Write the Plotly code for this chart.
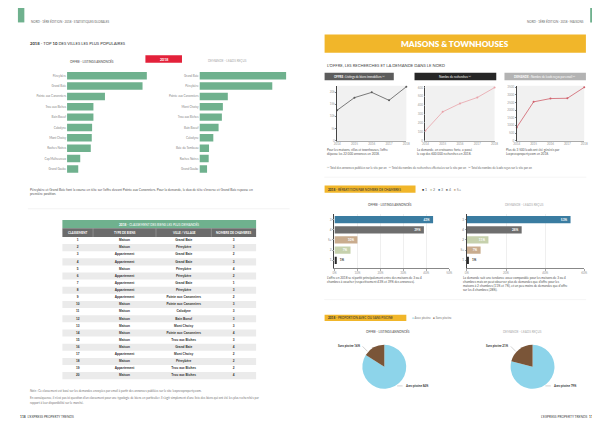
import plotly.graph_objects as go

W, H = 600, 424
def X(p): return p / W
def Y(p): return 1 - p / H

# ---------------- DATA ----------------
top_offre_villes = ["Péreybère", "Grand Baie", "Pointe aux Canonniers", "Trou aux Biches", "Bain Boeuf",
                    "Calodyne", "Mont Choisy", "Roches Noires", "Cap Malheureux", "Grand Gaube"]
top_offre_vals = [242, 229, 115, 80, 80, 76, 75, 72, 40, 34]
top_dem_villes = ["Grand Baie", "Péreybère", "Pointe aux Canonniers", "Mont Choisy", "Trou aux Biches",
                  "Bain Boeuf", "Calodyne", "Baie du Tombeau", "Roches Noires", "Grand Gaube"]
top_dem_vals = [263, 221, 86, 71, 68, 58, 42, 29, 28, 23]

classement = list(range(1, 21))
types_biens = ["Maison", "Maison", "Appartement", "Appartement", "Maison", "Appartement", "Appartement",
               "Appartement", "Appartement", "Maison", "Maison", "Maison", "Maison", "Maison", "Maison",
               "Maison", "Appartement", "Maison", "Appartement", "Maison"]
villes_table = ["Grand Baie", "Péreybère", "Grand Baie", "Grand Baie", "Péreybère", "Péreybère", "Grand Baie",
                "Péreybère", "Pointe aux Canonniers", "Pointe aux Canonniers", "Calodyne", "Bain Boeuf",
                "Mont Choisy", "Pointe aux Canonniers", "Trou aux Biches", "Grand Baie", "Mont Choisy",
                "Péreybère", "Trou aux Biches", "Trou aux Biches"]
nb_chambres = [3, 3, 2, 3, 4, 2, 1, 3, 2, 3, 3, 3, 3, 4, 3, 4, 2, 2, 2, 4]
table_headers = ["CLASSEMENT", "TYPE DE BIENS", "VILLE / VILLAGE", "NOMBRE DE CHAMBRES"]

annees = [2014, 2015, 2016, 2017, 2018]
offre_annonces = [12540, 17750, 19920, 16640, 22250]
nb_recherches = [113, 326, 420, 488, 600]
nb_leads = [866, 2539, 2754, 2773, 3489]

ch_offre_labels = ["3", "4", "5+", "2", "1"]
ch_offre_pct = [43, 39, 10, 7, 1]
ch_dem_labels = ["3", "4", "2", "5+", "1"]
ch_dem_pct = [53, 28, 11, 7, 1]
ch_legend = ["1", "2", "3", "4", "5+"]

piscine_labels = ["Avec piscine", "Sans piscine"]
piscine_offre = [84, 16]
piscine_dem = [79, 21]

# ---------------- STYLE ----------------
GREEN = "#6fb18e"
YELLOW = "#f1b62a"
RED = "#e3213a"
FONT = "Lato, Open Sans, Arial, sans-serif"
CH_COL = {"1": "#2b2b2b", "2": "#c6d1ad", "3": "#3a7ca1", "4": "#6e6e6e", "5+": "#c9ac8e"}
PIE_COL = ["#8dd4ea", "#7a5538"]

fig = go.Figure()
shapes = []
anns = []

def rect(x0, y0, x1, y1, color, layer="below"):
    shapes.append(dict(type="rect", xref="paper", yref="paper", x0=X(x0), x1=X(x1), y0=Y(y1), y1=Y(y0),
                       fillcolor=color, line=dict(width=0), layer=layer))

def hline(x0, x1, y, color="#e6e6e6", w=0.6):
    shapes.append(dict(type="line", xref="paper", yref="paper", x0=X(x0), x1=X(x1), y0=Y(y), y1=Y(y),
                       line=dict(color=color, width=w)))

def seg(x0, y0, x1, y1, color="#555", w=0.4, layer="above"):
    shapes.append(dict(type="line", xref="paper", yref="paper", x0=X(x0), x1=X(x1), y0=Y(y0), y1=Y(y1),
                       line=dict(color=color, width=w), layer=layer))

def ann(x, y, text, size=3.5, color="#555", xa="left", ya="middle", align="left", weight=None):
    f = dict(size=size, color=color, family=FONT)
    if weight:
        f["weight"] = weight
    anns.append(dict(x=X(x), y=Y(y), xref="paper", yref="paper", text=text, showarrow=False,
                     xanchor=xa, yanchor=ya, align=align, font=f))

# ---------------- LEFT PAGE ----------------
rect(7, 0, 13.5, 14.5, GREEN)
ann(18, 14, "NORD · 1ÈRE ÉDITION · 2018 · STATISTIQUES GLOBALES", 3, "#666")
ann(17, 35.7, "<b>2018</b> - TOP <b>10</b> DES VILLES LES PLUS POPULAIRES", 4.2, "#333")
ann(82, 53.3, "OFFRE - LISTINGS ANNONCÉS", 3.1, "#444", xa="center")
rect(136, 47.5, 173, 55, RED)
ann(154.5, 51.3, "<b>2018</b>", 3.6, "white", xa="center")
ann(219, 53.3, "DEMANDE - LEADS REÇUS", 3.1, "#aaa", xa="center")

fig.add_trace(go.Bar(x=top_offre_vals, y=top_offre_villes, orientation="h", marker=dict(color=GREEN, line=dict(width=0)),
                     xaxis="x", yaxis="y", showlegend=False, hoverinfo="skip", width=0.72))
fig.add_trace(go.Bar(x=top_dem_vals, y=top_dem_villes, orientation="h", marker=dict(color=GREEN, line=dict(width=0)),
                     xaxis="x2", yaxis="y2", showlegend=False, hoverinfo="skip", width=0.72))

ann(17, 184.8, "Péreybère et Grand Baie font la course en tête sur l'offre devant Pointe aux Canonniers. Pour la demande, le duo de tête s'inverse et Grand Baie repasse en<br>première position.", 3.3, "#555")
hline(17, 282, 201.7, "#ececec")

# table (title row, header row, striped rows, text from data)
T_X0, T_X1 = 52, 248
T_HEAD0, T_ROW0, T_ROWH = 221.2, 230, 7.15
col_edges = [0, 31, 94.7, 150.7, 196]
col_centers = [(col_edges[i] + col_edges[i + 1]) / 2 for i in range(4)]
rect(T_X0, 213, T_X1, T_HEAD0, GREEN)
ann(150, 217.1, "<b>2018</b> - CLASSEMENT DES BIENS LES PLUS DEMANDÉS", 3.2, "white", xa="center")
rect(T_X0, T_HEAD0, T_X1, T_ROW0, "#6b6b6b")
for i, h in enumerate(table_headers):
    ann(T_X0 + col_centers[i], (T_HEAD0 + T_ROW0) / 2, "<b>%s</b>" % h, 3.0, "white", xa="center")
for e in col_edges[1:-1]:
    seg(T_X0 + e, T_HEAD0, T_X0 + e, T_ROW0, "#a5a5a5", 0.6)
n_rows = len(classement)
for i in range(n_rows):
    if i % 2 == 1:
        rect(T_X0, T_ROW0 + i * T_ROWH, T_X1, T_ROW0 + (i + 1) * T_ROWH, "#ebebeb")
for ci, col in enumerate([classement, types_biens, villes_table, nb_chambres]):
    fig.add_trace(go.Scatter(x=[col_centers[ci]] * n_rows, y=classement, text=[str(v) for v in col], mode="text",
                             textposition="middle center",
                             textfont=dict(size=3.2, color="#333", family="Liberation Sans, Arial", weight="bold"),
                             xaxis="x8", yaxis="y8", showlegend=False, hoverinfo="skip", cliponaxis=False))

ann(17, 384.6, "<i>Note :</i> Ce classement est basé sur les demandes envoyées par email à partir des annonces publiées sur le site lexpressproperty.com.", 3.0, "#777")
ann(17, 391.6, "En conséquence, il n'est pas ici question d'un classement pour une typologie de biens en particulier. Il s'agit simplement d'une liste des biens qui ont été les plus recherchés par", 3.0, "#777")
ann(17, 396.4, "rapport à leur disponibilité sur le marché.", 3.0, "#777")
ann(7, 410.7, "<b>118</b>  L'EXPRESS PROPERTY TRENDS", 3.3, "#444")

# ---------------- RIGHT PAGE ----------------
rect(586, 0, 592.5, 14.5, GREEN)
ann(581.7, 14, "NORD · 1ÈRE ÉDITION · 2018 · MAISONS", 3, "#666", xa="right")
rect(317.3, 26.7, 581.7, 45, YELLOW)
ann(449.5, 36, "MAISONS & TOWNHOUSES", 8.2, "white", xa="center", weight=800)
ann(317.5, 58, "L'OFFRE, LES RECHERCHES ET LA DEMANDE DANS LE NORD", 4.2, "#444")

rect(317.3, 65, 387.3, 72.7, "#5c5c5c")
ann(352.3, 68.9, "<b>OFFRE :</b> Listings de biens immobiliers <sup>(1)</sup>", 2.9, "white", xa="center")
rect(408.3, 65, 491, 72.7, "#262626")
ann(449.6, 68.9, "Nombre de recherches <sup>(2)</sup>", 2.9, "white", xa="center")
rect(499.3, 65, 581.7, 72.7, "#b3b3b3")
ann(540.5, 68.9, "<b>DEMANDE :</b> Nombre de leads reçus par email <sup>(3)</sup>", 2.9, "white", xa="center")

line_specs = [
    ("x3", "y3", 330, 400, offre_annonces, [0, 22700], 5000, "#5a5a5a"),
    ("x4", "y4", 419.3, 489.3, nb_recherches, [0, 622], 100, "#e9a3aa"),
    ("x5", "y5", 511.7, 580, nb_leads, [0, 3600], 500, "#d0606b"),
]
for xa_, ya_, x0, x1, vals, rng, dt, col in line_specs:
    rect(x0, 78, x1, 133.3, "#f1f1f1")
    fig.add_trace(go.Scatter(x=annees, y=vals, mode="lines+markers", line=dict(color=col, width=0.8),
                             marker=dict(size=2, color=col), xaxis=xa_, yaxis=ya_, showlegend=False,
                             hoverinfo="skip", cliponaxis=False))

ann(317.5, 145, "Pour les maisons, villas et townhouses, l'offre<br>dépasse les 22 000 annonces en 2018.", 3.1, "#555")
ann(408.3, 145, "La demande, en croissance forte, a passé<br>le cap des 600 000 recherches en 2018.", 3.1, "#555")
ann(499.3, 145, "Plus de 3 500 leads ont été générés par<br>Lexpressproperty.com en 2018.", 3.1, "#555")
ann(317.5, 160.7, "<sup>(1)</sup> Total des annonces publiées sur le site par an   <sup>(2)</sup> Total du nombre de recherches effectuées sur le site par an   <sup>(3)</sup> Total du nombre de leads reçus sur le site par an", 2.9, "#666")
hline(317, 582, 170, "#eeeeee")

rect(317.3, 178.3, 409.3, 185.7, YELLOW)
ann(319, 182, "<b>2018</b> - RÉPARTITION PAR NOMBRE DE CHAMBRES", 3.1, "#333")
ann(414, 182, "   ".join("<span style='color:%s'>●</span> %s" % (CH_COL[k], k) for k in ch_legend), 3.6, "#777")

ann(383, 197.7, "OFFRE - LISTINGS ANNONCÉS", 3.1, "#444", xa="center")
ann(520, 197.7, "DEMANDE - LEADS REÇUS", 3.1, "#aaa", xa="center")

for xa_, ya_, labs, pcts in [("x6", "y6", ch_offre_labels, ch_offre_pct), ("x7", "y7", ch_dem_labels, ch_dem_pct)]:
    fig.add_trace(go.Bar(x=pcts, y=labs, orientation="h", xaxis=xa_, yaxis=ya_, width=0.71,
                         marker=dict(color=[CH_COL[l] for l in labs], line=dict(width=0)),
                         text=["<b>%d%%</b>" % p for p in pcts],
                         textposition=["inside" if p >= 5 else "outside" for p in pcts],
                         insidetextanchor="end", textangle=0, constraintext="none", cliponaxis=False,
                         insidetextfont=dict(size=3.2, family=FONT, color="white"),
                         outsidetextfont=dict(size=3.2, family=FONT, color="#333"),
                         showlegend=False, hoverinfo="skip"))

ann(317.5, 272.8, "L'offre en 2018 se répartit principalement entre des maisons de 3 ou 4<br>chambres à coucher (respectivement 43% et 39% des annonces).", 3.1, "#555")
ann(455.5, 277.5, "La demande suit une tendance assez comparable pour les maisons de 3 ou 4<br>chambres mais on peut observer plus de demandes que d'offre pour les<br>maisons à 2 chambres (11% et 7%), et un peu moins de demandes que d'offre<br>sur les 4 chambres (28%).", 3.1, "#555")
hline(317, 582, 293, "#eeeeee")

rect(317.3, 308.3, 400, 314.5, YELLOW)
ann(319, 311.5, "<b>2018</b> - PROPORTION AVEC OU SANS PISCINE", 3.1, "#333")
ann(404, 311.5, "<span style='color:%s'>●</span> %s   <span style='color:%s'>●</span> %s" % (PIE_COL[0], piscine_labels[0], PIE_COL[1], piscine_labels[1]), 3.0, "#777")

ann(381.7, 325.3, "OFFRE - LISTINGS ANNONCÉS", 3.1, "#444", xa="center")
ann(518, 325.3, "DEMANDE - LEADS REÇUS", 3.1, "#aaa", xa="center")

for cx, vals in [(377.7, piscine_offre), (527.7, piscine_dem)]:
    r = 22.2
    cy = 360.5
    fig.add_trace(go.Pie(values=vals, labels=piscine_labels, sort=False, direction="clockwise", rotation=0,
                         domain=dict(x=[X(cx - r), X(cx + r)], y=[Y(cy + r), Y(cy - r)]),
                         marker=dict(colors=PIE_COL, line=dict(width=0)), textinfo="none",
                         showlegend=False, hoverinfo="skip"))
    ann(cx - 22, 340, "<b>%s %d%%</b>" % (piscine_labels[1], vals[1]), 2.9, "#333", xa="right")
    seg(cx - 22, 340, cx - 17, 345, "#666", 0.3)
    ann(cx + 19, 379.7, "<b>%s %d%%</b>" % (piscine_labels[0], vals[0]), 2.9, "#333", xa="left")
    seg(cx + 13, 379.7, cx + 18.5, 379.7, "#666", 0.3)

ann(593, 410.5, "L'EXPRESS PROPERTY TRENDS  <b>119</b>", 3.3, "#444", xa="right")

# ---------------- AXES ----------------
tick_small = dict(size=3, color="#999", family=FONT)
layout_axes = dict(
    xaxis=dict(domain=[X(56.7), X(140.1)], range=[0, 250], visible=False, anchor="y"),
    yaxis=dict(domain=[Y(166.9), Y(62.8)], range=[9.5, -0.5], anchor="x", showgrid=False, showline=False,
               ticks="", tickfont=dict(size=3, color="#888", family=FONT), zeroline=False),
    xaxis2=dict(domain=[X(190.7), X(280.7)], range=[0, 270], visible=False, anchor="y2"),
    yaxis2=dict(domain=[Y(166.9), Y(62.8)], range=[9.5, -0.5], anchor="x2", showgrid=False, showline=False,
                ticks="", tickfont=dict(size=3, color="#888", family=FONT), zeroline=False),
    xaxis8=dict(domain=[X(T_X0), X(T_X1)], range=[0, 196], visible=False, anchor="y8"),
    yaxis8=dict(domain=[Y(T_ROW0 + n_rows * T_ROWH), Y(T_ROW0)], range=[n_rows + 0.5, 0.5], visible=False, anchor="x8"),
)
for i, (xa_, ya_, x0, x1, vals, rng, dt, col) in enumerate(line_specs):
    n = i + 3
    layout_axes["xaxis%d" % n] = dict(domain=[X(x0), X(x1)], range=[2014, 2018], dtick=1, anchor="y%d" % n,
                                      showgrid=False, zeroline=False, showline=True, linecolor="#aaa", linewidth=0.5,
                                      tickfont=tick_small, ticks="", tickformat="d")
    layout_axes["yaxis%d" % n] = dict(domain=[Y(133.3), Y(78)], range=rng, dtick=dt, anchor="x%d" % n,
                                      showgrid=False, zeroline=False, showline=True, linecolor="#444", linewidth=0.6,
                                      tickfont=tick_small, ticks="outside", ticklen=1, tickcolor="#888", tickwidth=0.4)
for n, x0, x1, rng, dt in [(6, 327.3, 443.3, [0, 50], 10), (7, 461.3, 580, [0, 60], 20)]:
    layout_axes["xaxis%d" % n] = dict(domain=[X(x0), X(x1)], range=rng, dtick=dt, anchor="y%d" % n, ticksuffix="%",
                                      showgrid=True, gridcolor="#efefef", gridwidth=0.5, zeroline=False,
                                      showline=True, linecolor="#888", linewidth=0.5, tickfont=tick_small,
                                      ticks="outside", ticklen=1.5, tickcolor="#aaa", tickwidth=0.4)
    layout_axes["yaxis%d" % n] = dict(domain=[Y(261.7), Y(207)], range=[4.8, -0.55], anchor="x%d" % n,
                                      showgrid=False, zeroline=False, showline=True, linecolor="#444", linewidth=0.6,
                                      tickfont=dict(size=3, color="#777", family=FONT), ticks="outside", ticklen=1.5,
                                      tickcolor="#aaa", tickwidth=0.4)

fig.update_layout(width=W, height=H, margin=dict(l=0, r=0, t=0, b=0), paper_bgcolor="white",
                  plot_bgcolor="rgba(0,0,0,0)", shapes=shapes, annotations=anns,
                  font=dict(family=FONT), **layout_axes)

fig.write_html("out.html", config=dict(displayModeBar=False))
